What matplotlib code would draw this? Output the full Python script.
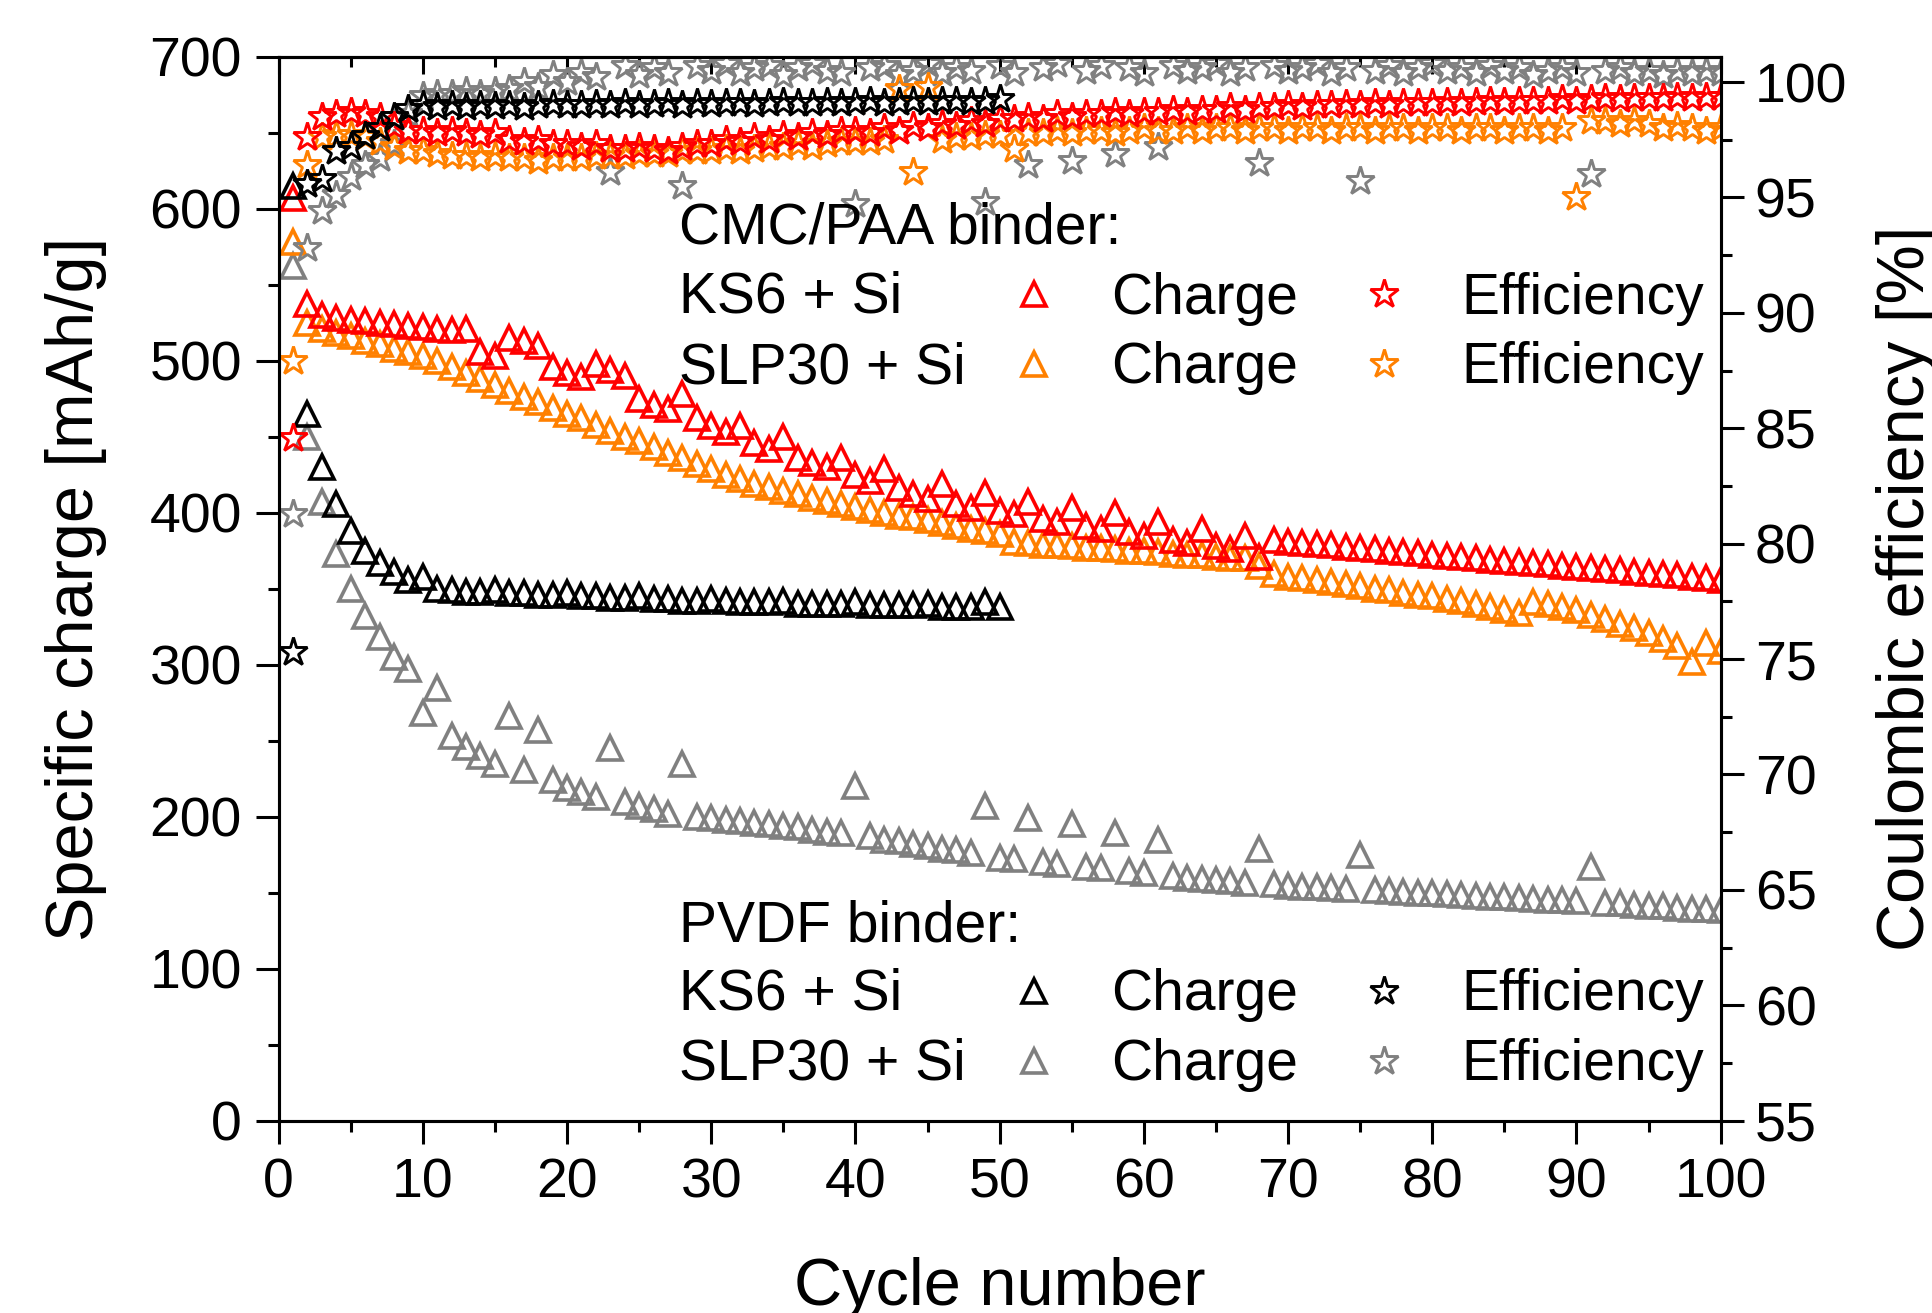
import matplotlib
matplotlib.use('Agg')
import matplotlib.pyplot as plt
from matplotlib.lines import Line2D
from matplotlib.ticker import MultipleLocator

plt.rcParams['font.family'] = ['Liberation Sans', 'DejaVu Sans']

# ---------------- data ----------------
cycles = list(range(1, 101))
cycles_pvdf_ks6 = list(range(1, 51))

charge_cmc_ks6 = [607, 537, 530, 528, 527, 526, 525, 524, 523, 522,
                  521, 520, 521, 506, 503, 515, 513, 510, 496, 492,
                  489, 498, 494, 490, 475, 471, 468, 478, 462, 457,
                  453, 457, 446, 442, 450, 436, 433, 430, 436, 425,
                  421, 429, 416, 412, 409, 419, 406, 403, 413, 401,
                  399, 407, 396, 394, 403, 391, 389, 400, 387, 385,
                  394, 382, 380, 389, 378, 376, 385, 371, 382, 381,
                  380, 379.5, 378.5, 377.5, 377, 376, 375, 374, 373.5, 372.5,
                  371.5, 371, 370, 369, 368.5, 367.5, 367, 366, 365, 364.5,
                  363.5, 363, 362, 361, 360.5, 359.5, 359, 358, 357, 356]

charge_cmc_slp30 = [578, 525, 521, 518, 516, 513, 511, 508, 506, 503,
                    500, 496, 492, 488, 484, 480, 476, 473, 469, 465,
                    462, 458, 454, 450, 447, 443, 439, 436, 432, 429,
                    425, 422, 419, 417, 414, 412, 410, 408, 406, 404,
                    402, 400, 398, 397, 395, 393, 391, 389, 388, 386,
                    381, 380, 379, 378.5, 378, 377, 376.5, 376, 375, 374.5,
                    374, 373, 372.5, 372, 371, 370.5, 370, 365, 360, 358,
                    357, 356, 354.5, 353, 351.5, 350, 349, 347.5, 346, 345,
                    343.5, 342, 340, 338, 336, 334, 341, 340, 338, 336,
                    333, 330, 327, 324, 321, 317, 312, 302, 314, 309]

charge_pvdf_ks6 = [615, 465, 430, 406, 388, 375, 367, 361, 356, 358,
                   350, 349, 348, 348, 349, 347, 347, 346, 346, 347,
                   345, 345, 344, 344, 345, 343, 343, 342, 342, 343,
                   342, 341, 341, 341, 342, 340, 340, 340, 340, 341,
                   339, 339, 339, 339, 340, 338, 338, 338, 341, 338]

charge_pvdf_slp30 = [562, 450, 407, 373, 350, 332, 318, 305, 297, 268,
                     285, 253, 246, 240, 235, 266, 231, 257, 224, 219,
                     216, 213, 245, 210, 207, 205, 202, 235, 200, 199,
                     198, 197, 196, 195.5, 194, 193, 191.5, 190, 189, 220,
                     187, 185, 184, 182, 181, 179, 178, 176, 207, 173,
                     172, 199, 170, 169, 195, 167, 166, 189, 164, 163,
                     185, 161, 160, 159, 158.5, 157.5, 156.5, 179, 155.5, 154.5,
                     154, 153.5, 153, 152.5, 175, 151.5, 151, 150.5, 150, 149.5,
                     149, 148.5, 148, 147.5, 147, 146.5, 146, 145.5, 145, 144.5,
                     167, 143.5, 143, 142, 141.5, 141, 140, 139.5, 139, 138.5]

eff_cmc_ks6 = [84.6, 97.6, 98.5, 98.6, 98.7, 98.6, 98.5, 98.1, 97.9, 97.9,
               97.8, 97.9, 97.8, 97.7, 97.8, 97.5, 97.4, 97.5, 97.3, 97.3,
               97.2, 97.3, 97.1, 97.1, 97.2, 97.1, 97.0, 97.2, 97.3, 97.3,
               97.5, 97.4, 97.6, 97.5, 97.7, 97.6, 97.8, 97.7, 97.9, 97.9,
               97.8, 98.0, 97.9, 98.1, 98.0, 98.2, 98.1, 98.3, 98.2, 98.4,
               98.4, 98.5, 98.4, 98.6, 98.5, 98.6, 98.6, 98.7, 98.6, 98.7,
               98.7, 98.8, 98.7, 98.8, 98.8, 98.9, 98.8, 98.9, 98.9, 99.0,
               98.9, 99.0, 99.0, 99.05, 99.0, 99.1, 99.0, 99.1, 99.1, 99.1,
               99.15, 99.1, 99.15, 99.2, 99.15, 99.2, 99.2, 99.2, 99.25, 99.2,
               99.25, 99.3, 99.25, 99.3, 99.3, 99.3, 99.35, 99.3, 99.35, 99.35]

eff_cmc_slp30 = [87.9, 96.4, 97.6, 97.7, 97.7, 97.6, 97.4, 97.2, 97.0, 97.0,
                 96.9, 96.8, 96.8, 96.7, 96.8, 96.7, 96.7, 96.6, 96.7, 96.7,
                 96.7, 96.8, 96.8, 96.8, 96.9, 96.9, 96.9, 97.0, 97.0, 97.0,
                 97.1, 97.0, 97.1, 97.2, 97.2, 97.3, 97.2, 97.3, 97.4, 97.4,
                 97.4, 97.5, 99.7, 96.1, 99.8, 97.5, 97.6, 97.6, 97.7, 97.7,
                 97.1, 97.8, 97.8, 97.9, 97.8, 97.9, 97.9, 97.8, 97.9, 98.0,
                 97.9, 97.9, 98.0, 97.9, 98.0, 98.0, 97.9, 98.0, 98.0, 97.9,
                 98.0, 98.0, 97.9, 98.0, 98.0, 97.9, 98.0, 98.0, 97.9, 98.0,
                 98.0, 97.9, 98.0, 98.0, 97.9, 98.0, 98.0, 97.9, 98.0, 95.0,
                 98.3, 98.3, 98.2, 98.3, 98.2, 98.0, 98.1, 98.0, 97.9, 98.0]

eff_pvdf_ks6 = [75.3, 95.6, 95.8, 97.0, 97.2, 97.65, 98.0, 98.5, 98.85, 99.0,
                98.9, 99.0, 98.9, 99.0, 98.95, 99.0, 98.9, 99.0, 99.05, 99.0,
                99.0, 99.05, 99.0, 99.1, 99.0, 99.05, 99.1, 99.0, 99.1, 99.05,
                99.1, 99.1, 99.05, 99.1, 99.15, 99.1, 99.1, 99.15, 99.1, 99.15,
                99.2, 99.1, 99.15, 99.2, 99.15, 99.2, 99.2, 99.15, 99.2, 99.25]

eff_pvdf_slp30 = [81.3, 92.8, 94.4, 95.1, 95.9, 96.4, 96.7, 97.3, 98.6, 99.4,
                  99.5, 99.5, 99.6, 99.5, 99.6, 99.7, 100.0, 99.8, 100.3, 100.0,
                  100.4, 100.2, 96.1, 100.7, 100.3, 100.6, 100.4, 95.5, 100.7, 100.5,
                  100.8, 100.4, 100.6, 100.7, 100.3, 100.6, 100.8, 100.5, 100.4, 94.7,
                  100.6, 100.7, 100.3, 100.5, 100.8, 100.4, 100.6, 100.5, 94.8, 100.7,
                  100.4, 96.4, 100.6, 100.8, 96.6, 100.5, 100.7, 96.9, 100.6, 100.4,
                  97.2, 100.7, 100.5, 100.6, 100.8, 100.4, 100.6, 96.5, 100.7, 100.5,
                  100.6, 100.8, 100.4, 100.6, 95.7, 100.5, 100.7, 100.4, 100.6, 100.8,
                  100.5, 100.6, 100.4, 100.7, 100.5, 100.6, 100.3, 100.5, 100.6, 100.4,
                  96.0, 100.5, 100.6, 100.4, 100.5, 100.3, 100.5, 100.4, 100.5, 100.4]

RED = '#FF0000'
ORANGE = '#FF8000'
BLACK = '#000000'
GRAY = '#808080'

# ---------------- figure ----------------
W, H = 1933, 1313
fig = plt.figure(figsize=(W / 100, H / 100), dpi=100)
ax_l, ax_r, ax_t, ax_b = 278.6, 1720.7, 56.7, 1120.7
ax = fig.add_axes([ax_l / W, 1 - ax_b / H, (ax_r - ax_l) / W, (ax_b - ax_t) / H])
ax2 = ax.twinx()

tri = dict(marker='^', linestyle='none', markersize=17, markeredgewidth=2.6,
           markerfacecolor='none')
star = dict(marker='*', linestyle='none', markersize=21, markeredgewidth=2.1,
            markerfacecolor='none')

ax.plot(cycles, charge_pvdf_slp30, markeredgecolor=GRAY, **tri)
ax.plot(cycles, charge_cmc_slp30, markeredgecolor=ORANGE, **tri)
ax.plot(cycles, charge_cmc_ks6, markeredgecolor=RED, **tri)
ax.plot(cycles_pvdf_ks6, charge_pvdf_ks6, markeredgecolor=BLACK, **tri)

ax2.plot(cycles, eff_pvdf_slp30, markeredgecolor=GRAY, **star)
ax2.plot(cycles, eff_cmc_slp30, markeredgecolor=ORANGE, **star)
ax2.plot(cycles, eff_cmc_ks6, markeredgecolor=RED, **star)
ax2.plot(cycles_pvdf_ks6, eff_pvdf_ks6, markeredgecolor=BLACK, **star)

ax.set_xlim(0, 100)
ax.set_ylim(0, 700)
ax2.set_ylim(55, 101.1)

ax.xaxis.set_major_locator(MultipleLocator(10))
ax.xaxis.set_minor_locator(MultipleLocator(5))
ax.yaxis.set_major_locator(MultipleLocator(100))
ax.yaxis.set_minor_locator(MultipleLocator(50))
ax2.yaxis.set_major_locator(MultipleLocator(5))
ax2.yaxis.set_minor_locator(MultipleLocator(2.5))

LW = 2.2
for a in (ax, ax2):
    for s in a.spines.values():
        s.set_linewidth(LW)

ax.tick_params(axis='x', which='major', direction='out', length=16.5, width=LW,
               labelsize=40, pad=10, top=False)
ax.tick_params(axis='x', which='minor', direction='out', length=8, width=LW, top=False)
ax.tick_params(axis='y', which='major', direction='out', length=16.5, width=LW,
               labelsize=40, pad=10)
ax.tick_params(axis='y', which='minor', direction='out', length=8, width=LW)
ax2.tick_params(axis='y', which='major', direction='out', length=16.5, width=LW,
                labelsize=40, pad=8)
ax2.tick_params(axis='y', which='minor', direction='out', length=8, width=LW)

secx = ax.secondary_xaxis('top')
secx.xaxis.set_major_locator(MultipleLocator(10))
secx.xaxis.set_minor_locator(MultipleLocator(5))
secx.tick_params(axis='x', which='major', direction='in', length=12, width=LW,
                 labeltop=False)
secx.tick_params(axis='x', which='minor', direction='in', length=7, width=LW)
for s in secx.spines.values():
    s.set_linewidth(LW)

ax.set_xlabel('Cycle number', fontsize=48)
ax.xaxis.set_label_coords(0.5, -(1257 - ax_b) / (ax_b - ax_t))
ax.set_ylabel('Specific charge [mAh/g]', fontsize=48)
ax.yaxis.set_label_coords((107 - ax_l) / (ax_r - ax_l), 0.5)
ax2.set_ylabel('Coulombic efficiency [%]', fontsize=48)
ax2.yaxis.set_label_coords((1876 - ax_l) / (ax_r - ax_l), 0.5)

# ---------------- legend block ----------------
FS = 41
def ftxt(px, py, s):
    fig.text(px / W, 1 - py / H, s, fontsize=FS, ha='left', va='baseline')

ftxt(679, 243, 'CMC/PAA binder:')
ftxt(679, 313, 'KS6 + Si')
ftxt(679, 383, 'SLP30 + Si')
ftxt(679, 942, 'PVDF binder:')
ftxt(679, 1010, 'KS6 + Si')
ftxt(679, 1080, 'SLP30 + Si')

def handle(color, kind):
    d = tri if kind == 'tri' else star
    return Line2D([], [], markeredgecolor=color, **d)

leg_kw = dict(ncol=2, frameon=False, fontsize=FS, handlelength=1.56,
              handletextpad=0.58, columnspacing=0.72, labelspacing=0.28,
              borderpad=0, borderaxespad=0, loc='upper left',
              bbox_transform=fig.transFigure)

leg1 = ax2.legend([handle(RED, 'tri'), handle(ORANGE, 'tri'),
                   handle(RED, 'star'), handle(ORANGE, 'star')],
                  ['Charge', 'Charge', 'Efficiency', 'Efficiency'],
                  bbox_to_anchor=(989.6 / W, 1 - 271.5 / H), **leg_kw)
ax2.add_artist(leg1)
leg2 = ax2.legend([handle(BLACK, 'tri'), handle(GRAY, 'tri'),
                   handle(BLACK, 'star'), handle(GRAY, 'star')],
                  ['Charge', 'Charge', 'Efficiency', 'Efficiency'],
                  bbox_to_anchor=(989.6 / W, 1 - 968.5 / H), **leg_kw)

fig.savefig('out.png', dpi=100)
